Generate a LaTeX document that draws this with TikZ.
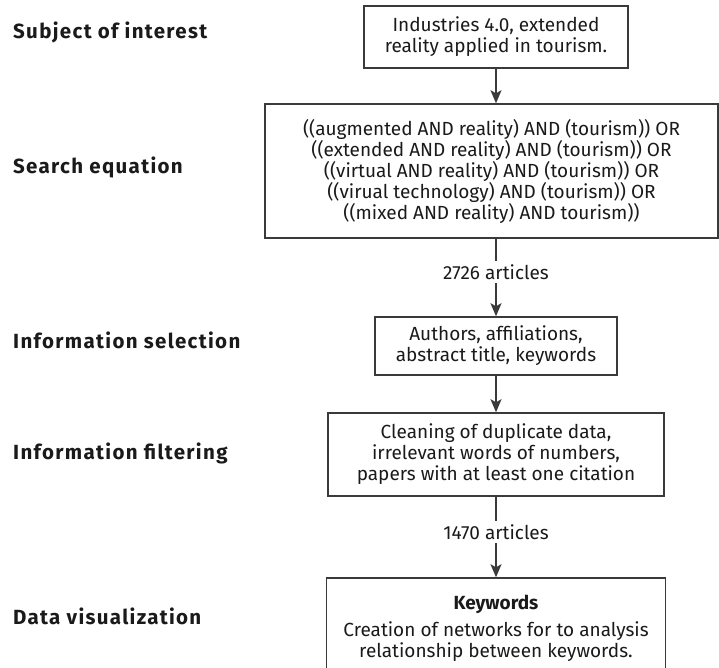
\documentclass[tikz,border=0pt]{standalone}
\usepackage{fontspec}
\setmainfont{Fira Sans}
\usetikzlibrary{arrows.meta}
\definecolor{linec}{HTML}{3A3A3A}
\definecolor{textc}{HTML}{1A1A1A}
\begin{document}
\begin{tikzpicture}[x=1pt,y=-1pt,
  box/.style={draw=linec, line width=1.5pt, align=center, inner sep=0pt, text=textc,
    font=\fontsize{19}{21}\selectfont},
  stage/.style={anchor=base west, inner sep=0pt, text=textc,
    font=\fontsize{20.5}{22}\selectfont\bfseries\addfontfeatures{LetterSpace=6.5}},
  flow/.style={draw=linec, line width=1.5pt, -{Stealth[length=13pt,width=11pt,inset=3pt]}},
  cnt/.style={fill=white, inner sep=3pt, text=textc, font=\fontsize{19}{21}\selectfont}]
\clip (0,0) rectangle (719,668);
\useasboundingbox (0,0) rectangle (719,668);
% stage labels
\node[stage] (s1) at (13,39) {Subject of interest};
\node[stage] (s2) at (13,174) {Search equation};
\node[stage] (s3) at (13,348) {Information selection};
\node[stage] (s4) at (13,459) {Information filtering};
\node[stage] (s5) at (13,624) {Data visualization};
% boxes
\node[box, minimum width=264, minimum height=62] (b1) at (496,37)
  {Industries 4.0, extended\\reality applied in tourism.};
\node[box, minimum width=453, minimum height=134] (b2) at (491.5,171)
  {((augmented AND reality) AND (tourism)) OR\\
   ((extended AND reality) AND (tourism)) OR\\
   ((virtual AND reality) AND (tourism)) OR\\
   ((virual technology) AND (tourism)) OR\\
   ((mixed AND reality) AND tourism))};
\node[box, minimum width=242, minimum height=58] (b3) at (496,346)
  {Authors, affiliations,\\abstract title, keywords};
\node[box, minimum width=336, minimum height=83] (b4) at (496,454.5)
  {Cleaning of duplicate data,\\irrelevant words of numbers,\\papers with at least one citation};
\node[box, minimum width=339, minimum height=100] (b5) at (496,628)
  {{\bfseries Keywords}\\[6pt]Creation of networks for to analysis\\relationship between keywords.};
% connectors
\draw[flow] (b1.south) -- (b1.south |- b2.north);
\draw[flow] (b3.north |- b2.south) -- (b3.north);
\node[cnt] (c1) at (496,272) {2726 articles};
\draw[flow] (b4.north |- b3.south) -- (b4.north);
\draw[flow] (b4.south) -- (b5.north);
\node[cnt] (c2) at (496,532) {1470 articles};
\end{tikzpicture}
\end{document}
